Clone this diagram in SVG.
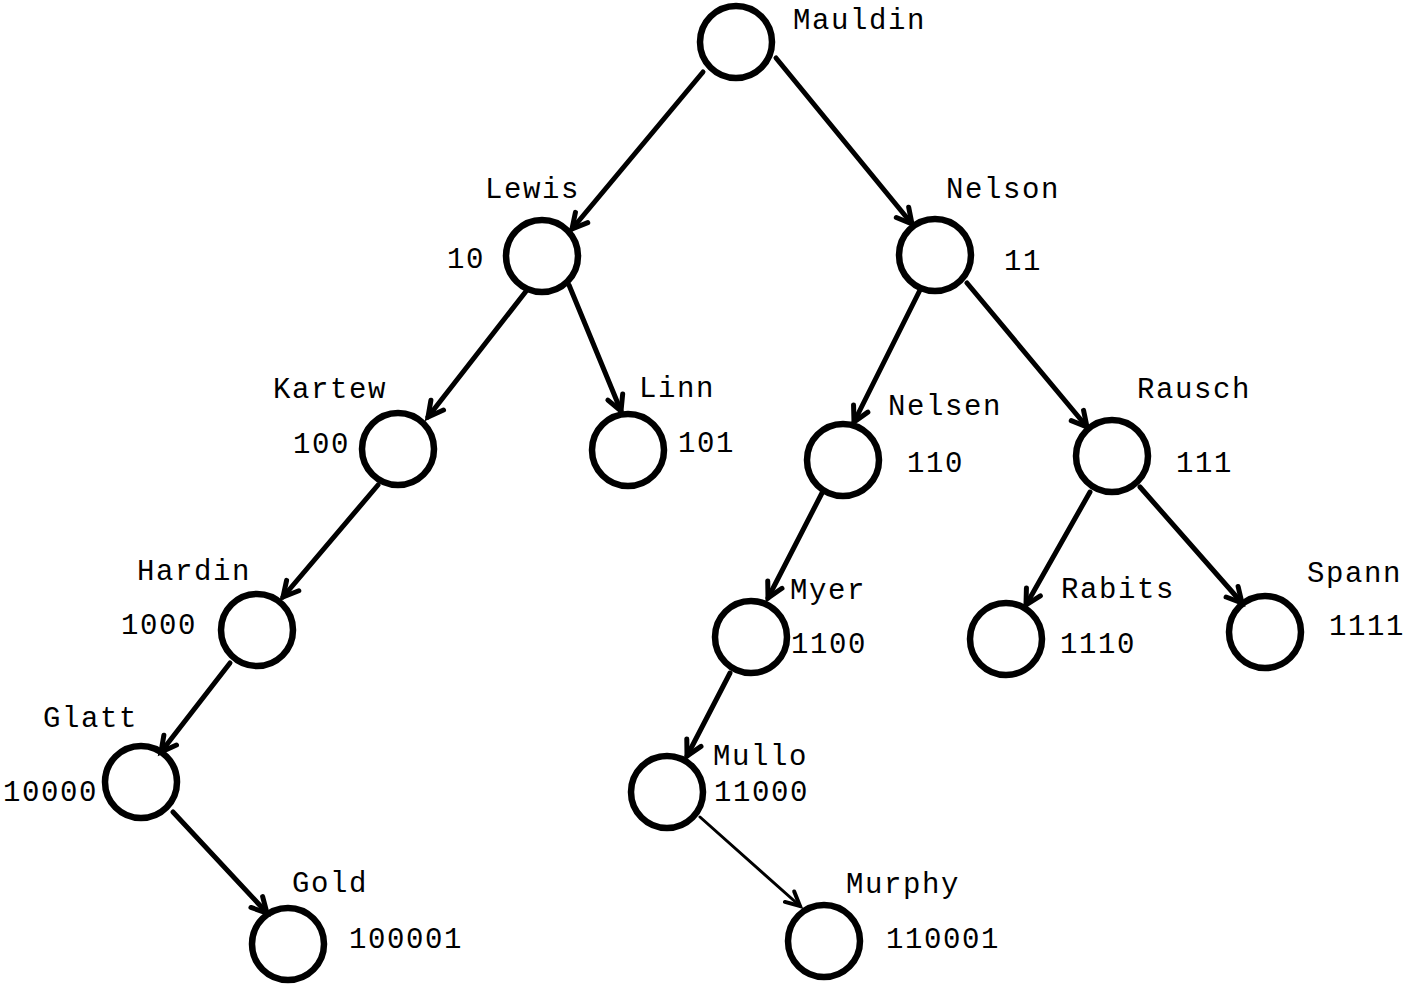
<svg xmlns="http://www.w3.org/2000/svg" width="1421" height="987" viewBox="0 0 1421 987">
<defs>
<style>
.node circle{fill:none;stroke:#000;stroke-width:6.5}
text{font-family:"Liberation Mono","DejaVu Sans Mono",monospace;font-size:29px;letter-spacing:1.6px;fill:#000}
.edges line{stroke:#000;stroke-width:5;stroke-linecap:round;marker-end:url(#arr)}
.edges line.thin{stroke-width:3;marker-end:url(#arrThin)}
</style>
<marker id="arr" markerUnits="userSpaceOnUse" viewBox="-22 -14 26 28" markerWidth="26" markerHeight="28" refX="0" refY="0" orient="auto" overflow="visible">
<path d="M-15,-8 L0,0 L-15,8" fill="none" stroke="#000" stroke-width="5" stroke-linecap="round" stroke-linejoin="miter"/>
</marker>
<marker id="arrThin" markerUnits="userSpaceOnUse" viewBox="-22 -14 26 28" markerWidth="26" markerHeight="28" refX="0" refY="0" orient="auto" overflow="visible">
<path d="M-14,-7 L0,0 L-14,7" fill="none" stroke="#000" stroke-width="4" stroke-linecap="round"/>
</marker>
</defs>
<rect width="1421" height="987" fill="#fff"/>
<g id="edges" class="edges">
<line x1="703" y1="72" x2="572" y2="229"/>
<line x1="776" y1="58" x2="912" y2="224"/>
<line x1="527" y1="290" x2="428" y2="417"/>
<line x1="569" y1="285" x2="621" y2="411"/>
<line x1="920" y1="290" x2="854" y2="422"/>
<line x1="967" y1="283" x2="1087" y2="427"/>
<line x1="378" y1="485" x2="283" y2="597"/>
<line x1="822" y1="493" x2="768" y2="598"/>
<line x1="1090" y1="492" x2="1026" y2="605"/>
<line x1="1140" y1="487" x2="1242" y2="603"/>
<line x1="230" y1="663" x2="161" y2="752"/>
<line x1="730" y1="673" x2="687" y2="756"/>
<line x1="173" y1="812" x2="267" y2="913"/>
<line class="thin" x1="700" y1="817" x2="800" y2="906"/>
</g>
<g id="n-mauldin" class="node"><circle cx="736" cy="42" r="36"/><text x="793" y="29">Mauldin</text></g>
<g id="n-lewis" class="node"><circle cx="542" cy="256" r="36"/><text x="485" y="198">Lewis</text><text x="447" y="268">10</text></g>
<g id="n-nelson" class="node"><circle cx="935" cy="255" r="36"/><text x="946" y="198">Nelson</text><text x="1004" y="270">11</text></g>
<g id="n-kartew" class="node"><circle cx="398" cy="449" r="36"/><text x="273" y="398">Kartew</text><text x="293" y="453">100</text></g>
<g id="n-linn" class="node"><circle cx="628" cy="450" r="36"/><text x="639" y="397">Linn</text><text x="678" y="452">101</text></g>
<g id="n-nelsen" class="node"><circle cx="843" cy="460" r="36"/><text x="888" y="415">Nelsen</text><text x="907" y="472">110</text></g>
<g id="n-rausch" class="node"><circle cx="1112" cy="456" r="36"/><text x="1137" y="398">Rausch</text><text x="1176" y="472">111</text></g>
<g id="n-hardin" class="node"><circle cx="257" cy="630" r="36"/><text x="137" y="580">Hardin</text><text x="121" y="634">1000</text></g>
<g id="n-myer" class="node"><circle cx="751" cy="637" r="36"/><text x="790" y="599">Myer</text><text x="791" y="653">1100</text></g>
<g id="n-rabits" class="node"><circle cx="1006" cy="639" r="36"/><text x="1061" y="598">Rabits</text><text x="1060" y="653">1110</text></g>
<g id="n-spann" class="node"><circle cx="1265" cy="632" r="36"/><text x="1307" y="582">Spann</text><text x="1329" y="635">1111</text></g>
<g id="n-glatt" class="node"><circle cx="141" cy="782" r="36"/><text x="43" y="727">Glatt</text><text x="3" y="801">10000</text></g>
<g id="n-mullo" class="node"><circle cx="667" cy="792" r="36"/><text x="713" y="765">Mullo</text><text x="714" y="801">11000</text></g>
<g id="n-gold" class="node"><circle cx="288" cy="944" r="36"/><text x="292" y="892">Gold</text><text x="349" y="948">100001</text></g>
<g id="n-murphy" class="node"><circle cx="824" cy="941" r="36"/><text x="846" y="893">Murphy</text><text x="886" y="948">110001</text></g>
</svg>
